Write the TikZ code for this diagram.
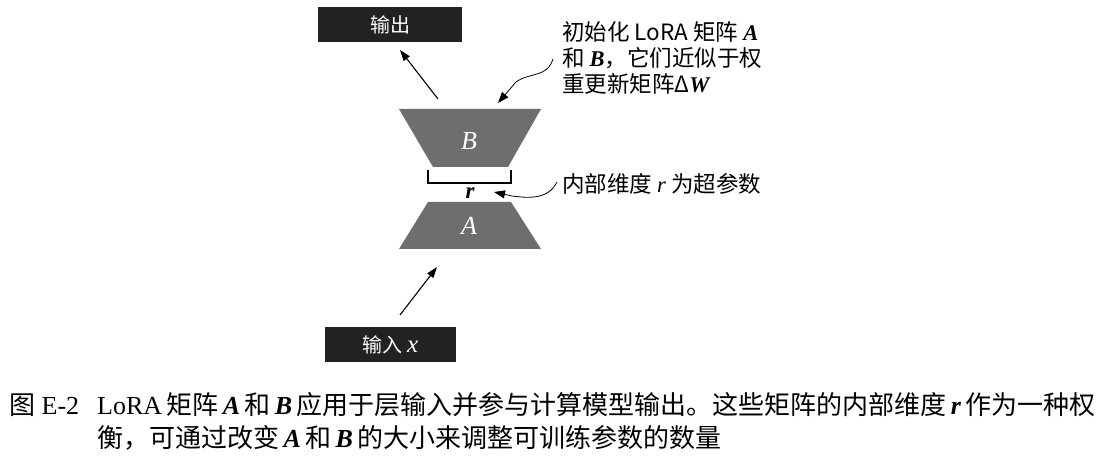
\documentclass[tikz,border=0pt]{standalone}
\usepackage{fontspec}
\setmainfont{Liberation Serif}
\newfontfamily\cjk{Noto Sans CJK SC}
\usetikzlibrary{arrows.meta}
\definecolor{boxdark}{HTML}{222222}
\definecolor{trapgray}{HTML}{6E6E6E}
\newcommand{\bi}[1]{\textbf{\textit{#1}}}
\tikzset{
  darkbox/.style={fill=boxdark, text=white, inner sep=0pt, font=\fontsize{20}{24}\selectfont\cjk},
  conn/.style={line width=1.1pt, -{Triangle[length=11pt,width=7.5pt]}},
  note/.style={anchor=west, inner sep=0pt, font=\fontsize{22.5}{26}\selectfont\cjk, align=left},
  traplabel/.style={text=white, inner sep=0pt, font=\fontsize{26}{30}\selectfont\itshape},
  caption/.style={anchor=west, inner sep=0pt, font=\fontsize{26}{30}\selectfont},
}
\begin{document}
\begin{tikzpicture}[x=1pt,y=-1pt]
\useasboundingbox (0,0) rectangle (1100,462);
% boxes
\node[darkbox, minimum width=144pt, minimum height=35pt] (out) at (390,24.5) {输出};
\node[darkbox, minimum width=131pt, minimum height=35pt] (in) at (390.5,344.5) {输入 {\rmfamily\itshape\fontsize{25}{28}\selectfont x}};
% trapezoids
\fill[trapgray] (399,109) -- (541,109) -- (508,167) -- (433,167) -- cycle;
\fill[trapgray] (428,202) -- (511,202) -- (541,249) -- (399,249) -- cycle;
\node[traplabel] (B) at (469,141) {B};
\node[traplabel] (A) at (469,226) {A};
% bracket
\draw[line width=1.1pt] (428,170) -- (428,183) -- (511,183) -- (511,170);
\node[inner sep=0pt, font=\fontsize{23}{28}\selectfont\bfseries\itshape] (r) at (470,193.5) {r};
% straight connectors
\coordinate (inarrowstart) at (400,315);
\coordinate (inarrowend) at (437,267);
\coordinate (outarrowstart) at (438,99);
\coordinate (outarrowend) at (400,50);
\draw[conn] (inarrowstart) -- (inarrowend);
\draw[conn] (outarrowstart) -- (outarrowend);
% annotations
\node[note, anchor=north west] (noteAB) at (562,21) {初始化 LoRA 矩阵 {\rmfamily\bi{A}}\\和 {\rmfamily\bi{B}}，它们近似于权\\重更新矩阵Δ{\rmfamily\bi{W}}};
\node[note] (noter) at (562,184) {内部维度 {\rmfamily\itshape r} 为超参数};
\coordinate (abstart) at (553,59);
\coordinate (abtip) at (498,103);
\coordinate (rstart) at (557,182);
\coordinate (rtip) at (494,192);
\draw[line width=0.8pt, -{Triangle[length=11pt,width=8pt]}] (abstart) .. controls (547,78) and (530,72) .. (516,82) -- (abtip);
\draw[line width=0.8pt, -{Triangle[length=11pt,width=8pt]}] (rstart) .. controls (548,200) and (528,198) .. (512,196) -- (rtip);
% caption
\node[caption] (figno) at (9,405) {{\cjk 图} E-2};
\node[caption] (cap1) at (97,405) {LoRA\,{\cjk 矩阵}\,\bi{A}\,{\cjk 和}\,\bi{B}\,{\cjk 应用于层输入并参与计算模型输出。这些矩阵的内部维度}\,\bi{r}\,{\cjk 作为一种权}};
\node[caption] (cap2) at (97,438) {{\cjk 衡，可通过改变}\,\bi{A}\,{\cjk 和}\,\bi{B}\,{\cjk 的大小来调整可训练参数的数量}};
\end{tikzpicture}
\end{document}
